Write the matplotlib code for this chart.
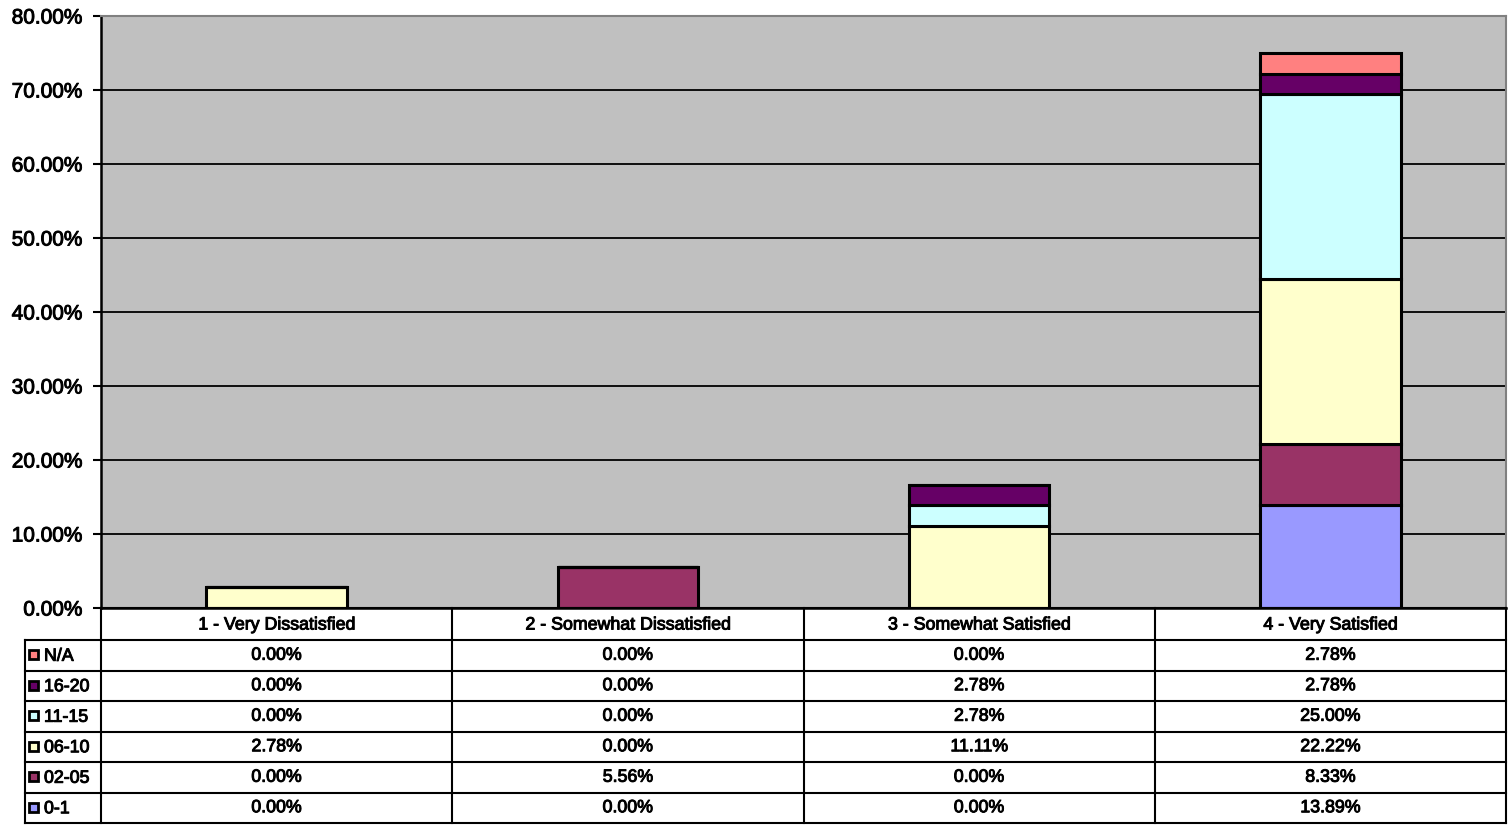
import matplotlib.pyplot as plt
import matplotlib.patheffects as pe
import numpy as np

categories = ['1 - Very Dissatisfied', '2 - Somewhat Dissatisfied',
              '3 - Somewhat Satisfied', '4 - Very Satisfied']
series_names = ['0-1', '02-05', '06-10', '11-15', '16-20', 'N/A']
series_colors = ['#9999FF', '#993366', '#FFFFCC', '#CCFFFF', '#660066', '#FF8080']

s_0_1 = [0.00, 0.00, 0.00, 13.89]
s_02_05 = [0.00, 5.56, 0.00, 8.33]
s_06_10 = [2.78, 0.00, 11.11, 22.22]
s_11_15 = [0.00, 0.00, 2.78, 25.00]
s_16_20 = [0.00, 0.00, 2.78, 2.78]
s_na = [0.00, 0.00, 0.00, 2.78]
series_values = [s_0_1, s_02_05, s_06_10, s_11_15, s_16_20, s_na]

plt.rcParams['font.family'] = ['Liberation Sans', 'DejaVu Sans']
thick = [pe.withStroke(linewidth=0.7, foreground='black')]

W, H = 1509, 825
fig = plt.figure(figsize=(W / 100, H / 100), dpi=100)

# layout in pixels
plot_l, plot_r, plot_t, plot_b = 101, 1506, 16, 608
legend_l = 25
header_b = 640
row_h = (823 - header_b) / len(series_names)

ax = fig.add_axes([plot_l / W, 1 - plot_b / H, (plot_r - plot_l) / W, (plot_b - plot_t) / H])
ax.set_facecolor('#C0C0C0')

x = np.arange(len(categories))
bottom = np.zeros(len(categories))
for name, vals, col in zip(series_names, series_values, series_colors):
    vals = np.array(vals)
    ax.bar(x, vals, 0.4, bottom=bottom, color=col, edgecolor='black',
           linewidth=2.2, zorder=3)
    bottom += vals

ax.set_xlim(-0.5, len(categories) - 0.5)
ax.set_ylim(0, 80)
ax.set_yticks(np.arange(0, 81, 10))
ax.set_yticklabels([f'{v:.2f}%' for v in np.arange(0, 81, 10)], fontsize=15)
for lbl in ax.get_yticklabels():
    lbl.set_path_effects(thick)
ax.set_xticks([])
ax.grid(axis='y', color='black', linewidth=1.3, zorder=1)
ax.tick_params(axis='y', direction='out', length=6, width=1.5, pad=7)
for side in ['top', 'right']:
    ax.spines[side].set_color('#808080')
    ax.spines[side].set_linewidth(1.5)
ax.spines['left'].set_linewidth(1.8)
ax.spines['bottom'].set_linewidth(1.8)

# data table below the plot
tab = fig.add_axes([0, 0, 1, 1])
tab.set_xlim(0, W)
tab.set_ylim(H, 0)
tab.axis('off')

col_w = (plot_r - plot_l) / len(categories)
col_edges = [plot_l + i * col_w for i in range(len(categories) + 1)]
lw = 1.5

tab.plot([plot_l, plot_r], [plot_b, plot_b], color='black', lw=lw)
for xe in col_edges:
    tab.plot([xe, xe], [plot_b, 823], color='black', lw=lw)
tab.plot([legend_l, legend_l], [header_b, 823], color='black', lw=lw)
for i in range(len(series_names) + 1):
    yy = header_b + i * row_h
    tab.plot([legend_l, plot_r], [yy, yy], color='black', lw=lw)

for j, cat in enumerate(categories):
    tab.text(col_edges[j] + col_w / 2, (plot_b + header_b) / 2 + 1, cat,
             ha='center', va='center', fontsize=12.8, path_effects=thick)

for i, k in enumerate(reversed(range(len(series_names)))):
    yc = header_b + (i + 0.5) * row_h
    tab.add_patch(plt.Rectangle((legend_l + 4, yc - 5), 9, 9,
                                facecolor=series_colors[k], edgecolor='black', lw=2))
    tab.text(legend_l + 19, yc + 1, series_names[k], ha='left', va='center',
             fontsize=12.8, path_effects=thick)
    for j in range(len(categories)):
        tab.text(col_edges[j] + col_w / 2, yc, f'{series_values[k][j]:.2f}%',
                 ha='center', va='center', fontsize=12.8, path_effects=thick)

fig.savefig('out.png', dpi=100)
